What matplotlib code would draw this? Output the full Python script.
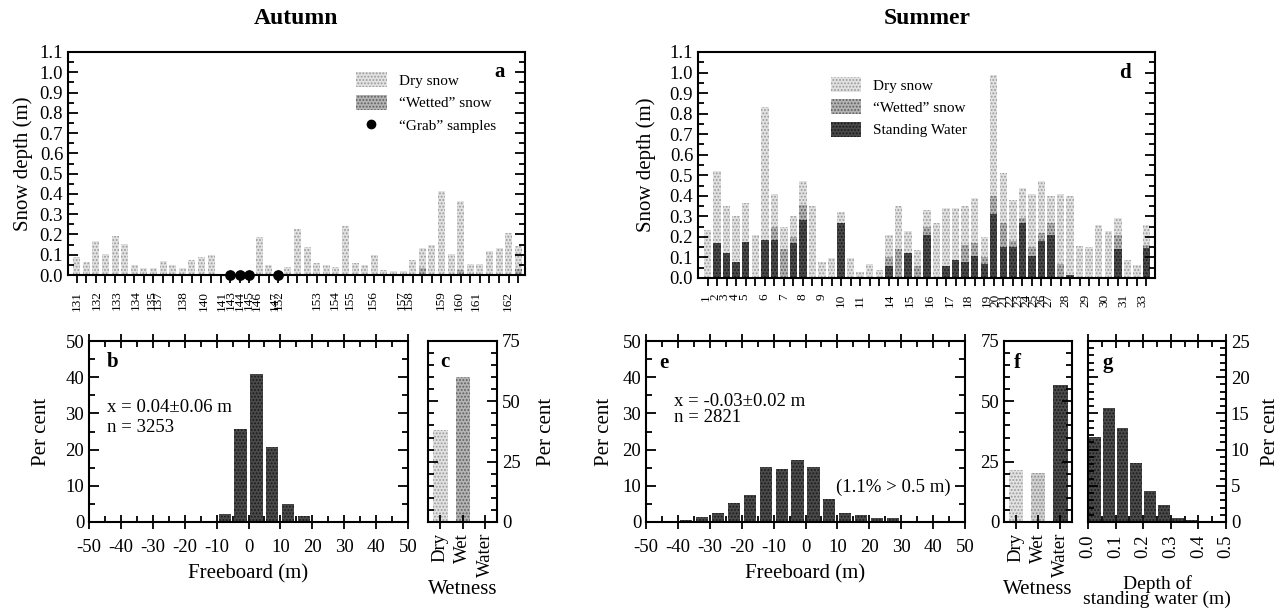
import numpy as np
import matplotlib
matplotlib.use("Agg")
import matplotlib.pyplot as plt
import matplotlib.transforms as mtrans
from matplotlib.ticker import MultipleLocator, FormatStrFormatter
from matplotlib.patches import Patch
from matplotlib.lines import Line2D

plt.rcParams['font.family'] = ['Liberation Serif', 'DejaVu Serif']
plt.rcParams['hatch.linewidth'] = 0.9
plt.rcParams['axes.linewidth'] = 1.5
plt.rcParams['axes.unicode_minus'] = False

# ---- panel a : autumn snow depth along transect
a_dry = [0.087, 0.062, 0.169, 0.103, 0.193, 0.152, 0.05, 0.033, 0.033, 0.07,
         0.05, 0.034, 0.074, 0.09, 0.1, 0, 0, 0, 0, 0.185,
         0.05, 0, 0.04, 0.226, 0.136, 0.057, 0.05, 0.04, 0.243, 0.057,
         0.05, 0.098, 0.025, 0.02, 0.02, 0.074, 0.133, 0.15, 0.415, 0.103,
         0.367, 0.054, 0.054, 0.12, 0.135, 0.205, 0.143]
a_wet = [0] * 36 + [0.035, 0, 0, 0, 0.025, 0, 0, 0, 0, 0, 0.03]
a_grab = [16, 17, 18, 21]
a_lab = ['131', '132', '133', '134', '135', '137', '138', '140', '141', '143',
         '144', '145', '146', '147', '152', '153', '154', '155', '156', '157',
         '158', '159', '160', '161', '162']
a_lab_pos = [0.0, 2.1, 4.2, 6.2, 7.8, 8.4, 11.1, 13.2, 15.1, 16.1,
             17.0, 17.9, 18.8, 20.6, 21.1, 25.0, 26.9, 28.5, 30.8, 33.9,
             34.6, 37.9, 39.8, 41.6, 44.9]

# ---- panel d : summer snow depth along transect
d_dry = [0.234, 0.52, 0.35, 0.30, 0.366, 0.21, 0.83, 0.41, 0.25, 0.30,
         0.47, 0.35, 0.08, 0.097, 0.32, 0.097, 0.03, 0.07, 0.04, 0.21,
         0.35, 0.23, 0.134, 0.33, 0.27, 0.34, 0.34, 0.35, 0.39, 0.20,
         0.99, 0.51, 0.38, 0.44, 0.41, 0.47, 0.40, 0.41, 0.40, 0.154,
         0.15, 0.26, 0.227, 0.29, 0.089, 0.065, 0.26]
d_wet = [0, 0, 0, 0, 0, 0, 0, 0.25, 0.14, 0.20,
         0.355, 0, 0, 0, 0, 0, 0, 0, 0, 0.10,
         0.14, 0, 0.06, 0.25, 0, 0, 0, 0.16, 0.17, 0.10,
         0.40, 0.27, 0.18, 0.29, 0.15, 0.22, 0.27, 0.07, 0, 0,
         0, 0, 0, 0.21, 0, 0, 0.16]
d_water = [0, 0.17, 0.124, 0.076, 0.174, 0, 0.185, 0.185, 0, 0.17,
           0.28, 0, 0, 0, 0.27, 0, 0, 0, 0, 0.056,
           0, 0.12, 0, 0.21, 0, 0.06, 0.09, 0.08, 0.105, 0.07,
           0.31, 0.15, 0.15, 0.27, 0.105, 0.18, 0.21, 0, 0.016, 0,
           0, 0, 0, 0.14, 0, 0, 0.146]
d_lab = ['1', '2', '3', '4', '5', '6', '7', '8', '9', '10', '11', '14', '15',
         '16', '17', '18', '19', '20', '21', '22', '23', '24', '25', '26', '27',
         '28', '29', '30', '31', '33']
d_lab_pos = [-0.2, 0.8, 1.8, 2.8, 3.9, 6.0, 8.0, 10.0, 12.0, 14.0, 16.0, 19.1,
             21.2, 23.3, 25.4, 27.3, 29.3, 30.2, 31.0, 31.8, 32.6, 33.4, 34.2,
             35.0, 35.7, 37.5, 39.6, 41.6, 43.6, 45.6]

# ---- freeboard histograms (b autumn, e summer)
b_centers = [-7.5, -2.5, 2.5, 7.5, 12.5, 17.5, 22.5, 27.5]
b_vals = [2.2, 25.8, 41.0, 20.8, 4.9, 1.6, 0.2, 0.2]
e_centers = list(np.arange(-47.5, 50, 5))
e_vals = [0.1, 0.4, 0.5, 1.4, 2.4, 5.3, 7.4, 15.3, 14.7, 17.2,
          15.1, 6.3, 2.6, 2.0, 1.1, 1.1, 0.35, 0.2, 0.15, 0.3]

# ---- wetness (c autumn, f summer)
wet_cats = ['Dry', 'Wet', 'Water']
c_vals = [38.0, 60.0, 0.0]
f_vals = [21.7, 20.3, 56.9]

# ---- standing water depth (g)
g_centers = [0.025, 0.075, 0.125, 0.175, 0.225, 0.275, 0.325, 0.375]
g_vals = [11.7, 15.7, 13.0, 8.1, 4.3, 2.3, 0.55, 0.3]

DRY = dict(facecolor='#e2e2e2', edgecolor='#9a9a9a', hatch='.....', linewidth=0)
WETS = dict(facecolor='#b4b4b4', edgecolor='#5e5e5e', hatch='.....', linewidth=0)
WET_F = dict(facecolor='#d2d2d2', edgecolor='#8c8c8c', hatch='.....', linewidth=0)
WATER = dict(facecolor='#4a4a4a', edgecolor='#1a1a1a', hatch='.....', linewidth=0)

W, H = 1286, 616
fig = plt.figure(figsize=(12.86, 6.16), dpi=100)


def box(x0, y0, x1, y1):
    return fig.add_axes([x0 / W, 1 - y1 / H, (x1 - x0) / W, (y1 - y0) / H])


def ticks_in(ax, axis='y'):
    ax.tick_params(axis=axis, which='both', direction='in', width=1.3)
    ax.tick_params(axis=axis, which='major', length=7)
    ax.tick_params(axis=axis, which='minor', length=4)


def letter(ax, x, y, s):
    ax.text(x, y, s, transform=ax.transAxes, fontsize=15, fontweight='bold',
            ha='center', va='center')


def station_labels(ax, pos, labs):
    tr = mtrans.blended_transform_factory(ax.transData, ax.transAxes)
    for p, s in zip(pos, labs):
        ax.text(p, -0.07, s, transform=tr, rotation=90, ha='center', va='top',
                fontsize=9.5)


TS = 13.5
LS = 15

# ================= panel a
ax = box(68, 52, 525, 275)
xa = np.arange(len(a_dry))
ax.bar(xa, a_dry, width=0.72, **DRY)
ax.bar(xa, a_wet, width=0.72, **WETS)
ax.scatter(a_grab, [0] * len(a_grab), s=45, c='k', zorder=5, clip_on=False)
ax.set_xlim(-0.9, 46.7)
ax.set_ylim(0, 1.1)
ax.yaxis.set_major_locator(MultipleLocator(0.1))
ax.yaxis.set_minor_locator(MultipleLocator(0.05))
ax.yaxis.set_major_formatter(FormatStrFormatter('%.1f'))
ticks_in(ax)
ax.tick_params(axis='y', which='both', right=True, labelsize=TS)
ax.set_xticks(xa, [''] * len(xa))
ax.tick_params(axis='x', which='major', direction='out', length=6, width=1.3)
station_labels(ax, a_lab_pos, a_lab)
ax.set_ylabel('Snow depth (m)', fontsize=LS, labelpad=5)
handles = [Patch(**DRY), Patch(**WETS),
           Line2D([], [], marker='o', color='k', linestyle='none', markersize=6)]
ax.legend(handles, ['Dry snow', '\u201cWetted\u201d snow', '\u201cGrab\u201d samples'],
          loc='upper left', bbox_to_anchor=(0.6, 0.97), frameon=False,
          fontsize=11, handlelength=2.0, handleheight=1.1, labelspacing=0.45)
letter(ax, 0.945, 0.91, 'a')
fig.text(296 / W, 1 - 18 / H, 'Autumn', fontsize=17, fontweight='bold',
         ha='center', va='center')

# ================= panel d
ax = box(698, 52, 1155, 278)
xd = np.arange(len(d_dry))
ax.bar(xd, d_dry, width=0.78, **DRY)
ax.bar(xd, d_wet, width=0.78, **WETS)
ax.bar(xd, d_water, width=0.78, **WATER)
ax.set_xlim(-1.0, 46.9)
ax.set_ylim(0, 1.1)
ax.yaxis.set_major_locator(MultipleLocator(0.1))
ax.yaxis.set_minor_locator(MultipleLocator(0.05))
ax.yaxis.set_major_formatter(FormatStrFormatter('%.1f'))
ticks_in(ax)
ax.tick_params(axis='y', which='both', right=True, labelsize=TS)
ax.set_xticks(xd, [''] * len(xd))
ax.tick_params(axis='x', which='major', direction='out', length=6, width=1.3)
station_labels(ax, d_lab_pos, d_lab)
ax.set_ylabel('Snow depth (m)', fontsize=LS, labelpad=10)
handles = [Patch(**DRY), Patch(**WETS), Patch(**WATER)]
ax.legend(handles, ['Dry snow', '\u201cWetted\u201d snow', 'Standing Water'],
          loc='upper left', bbox_to_anchor=(0.26, 0.95), frameon=False,
          fontsize=11, handlelength=2.0, handleheight=1.1, labelspacing=0.45)
letter(ax, 0.934, 0.907, 'd')
fig.text(927 / W, 1 - 18 / H, 'Summer', fontsize=17, fontweight='bold',
         ha='center', va='center')


def freeboard(ax, centers, vals):
    ax.bar(centers, vals, width=3.8, **WATER)
    ax.set_xlim(-50, 50)
    ax.set_ylim(0, 50)
    ax.xaxis.set_major_locator(MultipleLocator(10))
    ax.xaxis.set_minor_locator(MultipleLocator(5))
    ax.yaxis.set_major_locator(MultipleLocator(10))
    ax.yaxis.set_minor_locator(MultipleLocator(5))
    ticks_in(ax, 'both')
    ax.tick_params(which='both', top=True, right=True, labelsize=TS)
    ax.tick_params(axis='x', which='major', direction='inout', length=10, pad=7)
    ax.set_xlabel('Freeboard (m)', fontsize=LS, labelpad=6)


def wetness(ax, vals, styles, side):
    for i, v in enumerate(vals):
        ax.bar(i, v, width=0.64, **styles[i])
    ax.set_xlim(-0.55, 2.52)
    ax.set_ylim(0, 75)
    ax.yaxis.set_major_locator(MultipleLocator(25))
    ax.yaxis.set_minor_locator(MultipleLocator(5))
    ticks_in(ax)
    ax.tick_params(axis='y', which='both', left=True, right=True, labelsize=TS,
                   labelleft=(side == 'left'), labelright=(side == 'right'))
    ax.set_xticks(range(3), wet_cats, rotation=90, fontsize=TS)
    ax.tick_params(axis='x', direction='inout', length=10, width=1.3, pad=3)
    ax.set_xlabel('Wetness', fontsize=LS, labelpad=2)


# ================= panel b
ax = box(89, 341, 408, 522)
freeboard(ax, b_centers, b_vals)
ax.set_ylabel('Per cent', fontsize=LS, labelpad=10)
letter(ax, 0.075, 0.884, 'b')
ax.text(0.056, 0.63, 'x = 0.04\u00b10.06 m', transform=ax.transAxes,
        fontsize=13.5, va='center')
ax.text(0.056, 0.52, 'n = 3253', transform=ax.transAxes, fontsize=13.5,
        va='center')

# ================= panel c
ax = box(428, 341, 497, 522)
wetness(ax, c_vals, [DRY, WETS, WATER], 'right')
ax.yaxis.set_label_position('right')
ax.set_ylabel('Per cent', fontsize=LS, labelpad=12)
letter(ax, 0.24, 0.884, 'c')

# ================= panel e
ax = box(646, 341, 965, 522)
freeboard(ax, e_centers, e_vals)
ax.set_ylabel('Per cent', fontsize=LS, labelpad=6)
letter(ax, 0.055, 0.88, 'e')
ax.text(0.088, 0.663, 'x = -0.03\u00b10.02 m', transform=ax.transAxes,
        fontsize=13.5, va='center')
ax.text(0.088, 0.575, 'n = 2821', transform=ax.transAxes, fontsize=13.5,
        va='center')
ax.text(0.955, 0.193, '(1.1% > 0.5 m)', transform=ax.transAxes, fontsize=13.5,
        va='center', ha='right')

# ================= panel f
ax = box(1004, 341, 1072, 522)
wetness(ax, f_vals, [DRY, WET_F, WATER], 'left')
letter(ax, 0.19, 0.88, 'f')

# ================= panel g
ax = box(1088, 341, 1226, 522)
ax.bar(g_centers, g_vals, width=0.043, **WATER)
ax.set_xlim(0, 0.5)
ax.set_ylim(0, 25)
ax.xaxis.set_major_locator(MultipleLocator(0.1))
ax.xaxis.set_minor_locator(MultipleLocator(0.05))
ax.xaxis.set_major_formatter(FormatStrFormatter('%.1f'))
ax.yaxis.set_major_locator(MultipleLocator(5))
ax.yaxis.set_minor_locator(MultipleLocator(1))
ticks_in(ax, 'both')
ax.tick_params(which='both', top=True, right=True, left=True,
               labelleft=False, labelright=True, labelsize=TS)
ax.tick_params(axis='x', which='major', direction='inout', length=10,
               labelrotation=90, pad=4)
ax.yaxis.set_label_position('right')
ax.set_ylabel('Per cent', fontsize=LS, labelpad=8)
ax.set_xlabel('Depth of\nstanding water (m)', fontsize=14, labelpad=12,
              linespacing=0.85)
letter(ax, 0.145, 0.88, 'g')

fig.savefig('out.png', dpi=100)
